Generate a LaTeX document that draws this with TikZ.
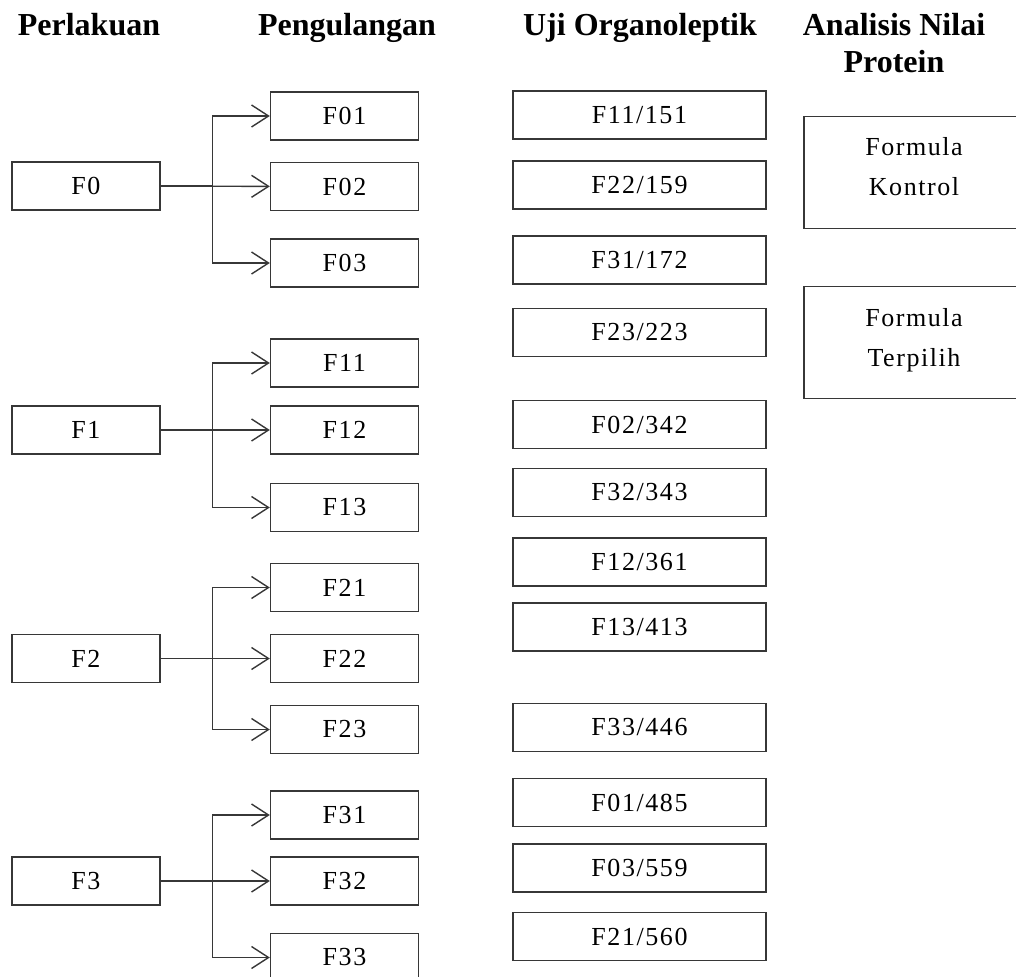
\documentclass[tikz,border=0pt]{standalone}
\usepackage{fontspec}
\setmainfont{Liberation Serif}
\newfontfamily\boxfont[LetterSpace=6]{Liberation Serif}
\usetikzlibrary{positioning,arrows.meta}
\definecolor{edge}{RGB}{55,55,55}

\begin{document}
\begin{tikzpicture}[
  x=1pt, y=-1pt,
  block/.style={draw=edge, line width=1.4pt, minimum width=148pt, minimum height=48pt, inner sep=0pt, font=\boxfont\fontsize{26}{30}\selectfont},
  wide/.style={block, minimum width=253pt},
  big/.style={block, minimum width=220pt, minimum height=112pt, font=\boxfont\fontsize{26}{40}\selectfont},
  head/.style={anchor=base, font=\bfseries\fontsize{32}{38}\selectfont},
  arrow/.style={-{Straight Barb[length=17pt,width=22pt]}, line width=1.4pt, draw=edge}
]
\useasboundingbox (0,0) rectangle (1016,976);

% headers
\node[head] (perl) at (89,36) {Perlakuan};
\node[head] (peng) at (347,36) {Pengulangan};
\node[head] (uji) at (640,36) {Uji Organoleptik};
\node[head] (anl) at (894,36) {Analisis Nilai};
\node[head] (prot) at (894,73) {Protein};

% perlakuan and pengulangan
\node[block] (f0) at (86,186) {F0};
\node[block] (f01) at (344.5,116) {F01};
\node[block] (f02) at (344.5,186.5) {F02};
\node[block] (f03) at (344.5,263) {F03};
\node[block] (f1) at (86,430) {F1};
\node[block] (f11) at (344.5,363) {F11};
\node[block] (f12) at (344.5,430) {F12};
\node[block] (f13) at (344.5,507.5) {F13};
\node[block] (f2) at (86,658.5) {F2};
\node[block] (f21) at (344.5,587.5) {F21};
\node[block] (f22) at (344.5,658.5) {F22};
\node[block] (f23) at (344.5,729.5) {F23};
\node[block] (f3) at (86,881) {F3};
\node[block] (f31) at (344.5,815) {F31};
\node[block] (f32) at (344.5,881) {F32};
\node[block] (f33) at (344.5,957.5) {F33};

% uji organoleptik
\node[wide] (u151) at (639.5,115) {F11/151};
\node[wide] (u159) at (639.5,185) {F22/159};
\node[wide] (u172) at (639.5,260) {F31/172};
\node[wide] (u223) at (639.5,332.5) {F23/223};
\node[wide] (u342) at (639.5,424.5) {F02/342};
\node[wide] (u343) at (639.5,492.5) {F32/343};
\node[wide] (u361) at (639.5,562) {F12/361};
\node[wide] (u413) at (639.5,627) {F13/413};
\node[wide] (u446) at (639.5,727.5) {F33/446};
\node[wide] (u485) at (639.5,802.5) {F01/485};
\node[wide] (u559) at (639.5,868) {F03/559};
\node[wide] (u560) at (639.5,936.5) {F21/560};

% analisis protein
\node[big] (kontrol) at (914,172.5) {\raisebox{5pt}[\height][\depth]{\begin{tabular}{c}Formula\\Kontrol\end{tabular}}};
\node[big] (terpilih) at (914,342.5) {\raisebox{4pt}[\height][\depth]{\begin{tabular}{c}Formula\\Terpilih\end{tabular}}};

\draw[arrow] (f0) -- (f02);
\draw[arrow] (f0.east) -- ++(52,0) |- (f01);
\draw[arrow] (f0.east) -- ++(52,0) |- (f03);
\draw[arrow] (f1) -- (f12);
\draw[arrow] (f1.east) -- ++(52,0) |- (f11);
\draw[arrow] (f1.east) -- ++(52,0) |- (f13);
\draw[arrow] (f2) -- (f22);
\draw[arrow] (f2.east) -- ++(52,0) |- (f21);
\draw[arrow] (f2.east) -- ++(52,0) |- (f23);
\draw[arrow] (f3) -- (f32);
\draw[arrow] (f3.east) -- ++(52,0) |- (f31);
\draw[arrow] (f3.east) -- ++(52,0) |- (f33);
\end{tikzpicture}
\end{document}
